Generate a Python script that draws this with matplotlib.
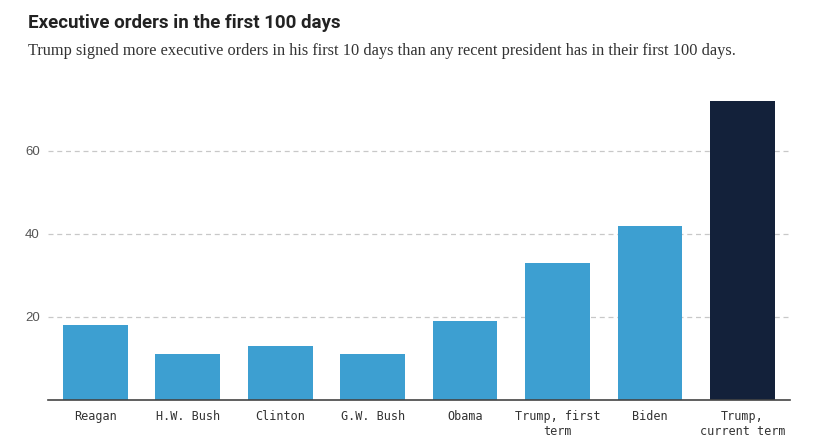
import matplotlib
matplotlib.use("Agg")
from matplotlib import pyplot as plt

presidents = ["Reagan", "H.W. Bush", "Clinton", "G.W. Bush", "Obama",
              "Trump, first\nterm", "Biden", "Trump,\ncurrent term"]
orders = [18, 11, 13, 11, 19, 33, 42, 72]
y_ticks = [20, 40, 60]

BLUE = "#3d9fd1"
NAVY = "#13213a"


def main():
    fig = plt.figure(figsize=(8.27, 4.40), dpi=100)
    ax = fig.add_axes([0.058, 0.091, 0.897, 0.679])

    colors = [BLUE] * (len(orders) - 1) + [NAVY]
    x = range(len(orders))
    ax.bar(x, orders, width=0.70, color=colors, zorder=3)

    ax.set_xlim(-0.51, len(orders) - 0.49)
    ax.set_ylim(0, 72)
    ax.set_yticks(y_ticks)
    ax.set_yticklabels([str(t) for t in y_ticks], fontsize=9.5, color="#555555",
                       family="Liberation Sans")
    ax.set_xticks(list(x))
    ax.set_xticklabels(presidents, fontsize=8.5, color="#333333",
                       family="DejaVu Sans Mono", linespacing=1.2)
    ax.tick_params(axis="both", length=0)
    ax.tick_params(axis="x", pad=7)
    ax.tick_params(axis="y", pad=6)

    ax.grid(axis="y", color="#c8c8c8", linestyle=(0, (4, 3)), linewidth=0.9, zorder=0)
    for side in ["top", "right", "left"]:
        ax.spines[side].set_visible(False)
    ax.spines["bottom"].set_color("#444444")
    ax.spines["bottom"].set_linewidth(1.2)
    ax.spines["bottom"].set_zorder(4)

    fig.text(0.034, 0.948, "Executive orders in the first 100 days", fontsize=13.5,
             fontweight="bold", color="#222222", family="Roboto", va="center")
    fig.text(0.034, 0.885,
             "Trump signed more executive orders in his first 10 days than any recent "
             "president has in their first 100 days.",
             fontsize=11.8, color="#333333", family="Liberation Serif", va="center")

    fig.savefig("out.png", dpi=100)


if __name__ == "__main__":
    main()
